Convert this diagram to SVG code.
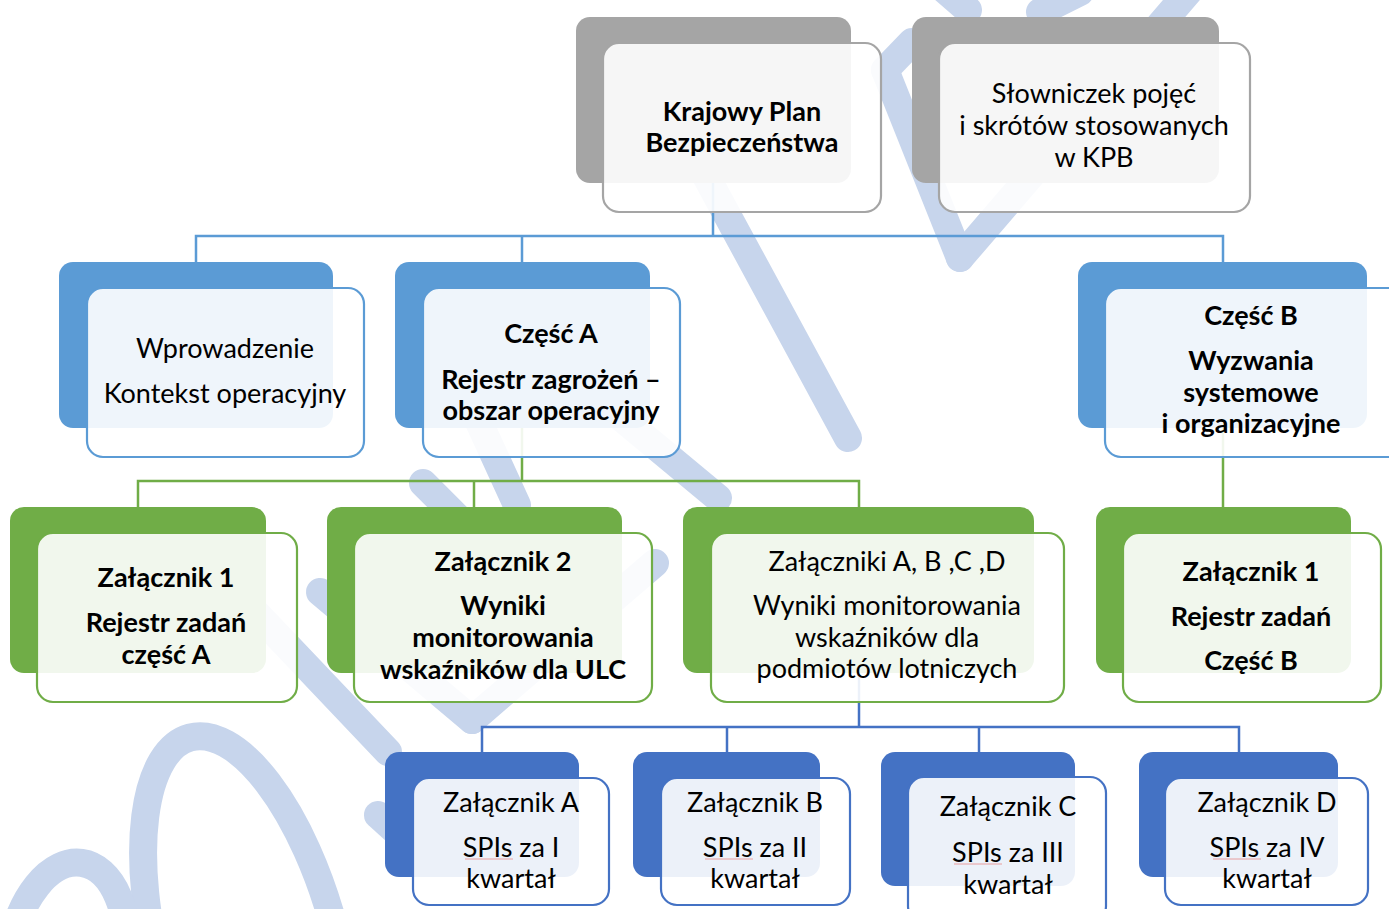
<svg xmlns="http://www.w3.org/2000/svg" width="1389" height="909" viewBox="0 0 1389 909">
<style>
text{font-family:Lato,"Liberation Sans",sans-serif;font-size:27px;fill:#000;text-anchor:middle}
.b{font-weight:700}
.wm{fill:none;stroke:#C7D5EC;stroke-width:28;stroke-linecap:round}
.bg{fill:#A5A5A5}.bb{fill:#5B9BD5}.bgr{fill:#70AD47}.bd{fill:#4472C4}
.fr{fill:#fff;fill-opacity:.9;stroke-width:2.2}
.sg{stroke:#A5A5A5}.sb{stroke:#5B9BD5}.sgr{stroke:#70AD47}.sd{stroke:#4472C4}
.con{fill:none;stroke-width:2.5}
.sp{stroke:#E88A8A;stroke-width:1;opacity:.8}
</style>
<rect width="1389" height="909" fill="#fff"/>
<g id="watermark">
<ellipse class="wm" cx="247" cy="950" rx="90" ry="220" transform="rotate(-15 247 950)"/>
<ellipse class="wm" cx="68" cy="960" rx="58" ry="98" transform="rotate(8 68 960)"/>
<line class="wm" x1="255" y1="612" x2="388" y2="752"/>
<line class="wm" x1="320" y1="592" x2="472" y2="720"/>
<line class="wm" x1="472" y1="720" x2="655" y2="563"/>
<line class="wm" x1="423" y1="483" x2="480" y2="540"/>
<line class="wm" x1="478" y1="420" x2="517" y2="505"/>
<line class="wm" x1="600" y1="400" x2="718" y2="498"/>
<line class="wm" x1="700" y1="165" x2="848" y2="438"/>
<line class="wm" x1="885" y1="70" x2="960" y2="258"/>
<line class="wm" x1="885" y1="70" x2="912" y2="42"/>
<line class="wm" x1="960" y1="258" x2="1190" y2="-10"/>
<line class="wm" x1="945" y1="-10" x2="968" y2="10"/>
<line class="wm" x1="1040" y1="12" x2="1080" y2="-8"/>
<line class="wm" x1="378" y1="815" x2="400" y2="835"/>
</g>
<g id="connectors">
<polyline class="con sb" points="713,183 713,236"/>
<polyline class="con sb" points="196,262 196,236 1223,236 1223,262"/>
<polyline class="con sb" points="522,236 522,262"/>
<polyline class="con sgr" points="522,428 522,481"/>
<polyline class="con sgr" points="138,507 138,481 859,481 859,507"/>
<polyline class="con sgr" points="474,481 474,507"/>
<polyline class="con sgr" points="1223,428 1223,507"/>
<polyline class="con sd" points="859,673 859,727"/>
<polyline class="con sd" points="482,752 482,727 1239,727 1239,752"/>
<polyline class="con sd" points="727,727 727,752"/>
<polyline class="con sd" points="979,727 979,752"/>
</g>
<g id="krajowy">
<rect class="bg" x="576" y="17" width="275" height="166" rx="14"/>
<rect class="fr sg" x="603" y="43" width="278" height="169" rx="16"/>
<text class="b" x="742" y="121">Krajowy Plan</text>
<text class="b" x="742" y="152">Bezpieczeństwa</text>
</g>
<g id="slowniczek">
<rect class="bg" x="912" y="17" width="307" height="166" rx="14"/>
<rect class="fr sg" x="939" y="43" width="311" height="169" rx="16"/>
<text x="1094" y="103">Słowniczek pojęć</text>
<text x="1094" y="135">i skrótów stosowanych</text>
<text x="1094" y="167">w KPB</text>
</g>
<g id="wprowadzenie">
<rect class="bb" x="59" y="262" width="274" height="166" rx="14"/>
<rect class="fr sb" x="87" y="288" width="277" height="169" rx="16"/>
<text x="225" y="358">Wprowadzenie</text>
<text x="225" y="403">Kontekst operacyjny</text>
</g>
<g id="czesc-a">
<rect class="bb" x="395" y="262" width="255" height="166" rx="14"/>
<rect class="fr sb" x="423" y="288" width="257" height="169" rx="16"/>
<text class="b" x="551" y="343">Część A</text>
<text class="b" x="551" y="389">Rejestr zagrożeń –</text>
<text class="b" x="551" y="420">obszar operacyjny</text>
</g>
<g id="czesc-b">
<rect class="bb" x="1078" y="262" width="289" height="166" rx="14"/>
<rect class="fr sb" x="1105" y="288" width="300" height="169" rx="16"/>
<text class="b" x="1251" y="325">Część B</text>
<text class="b" x="1251" y="370">Wyzwania</text>
<text class="b" x="1251" y="402">systemowe</text>
<text class="b" x="1251" y="433">i organizacyjne</text>
</g>
<g id="zal1-a">
<rect class="bgr" x="10" y="507" width="256" height="166" rx="14"/>
<rect class="fr sgr" x="37" y="533" width="260" height="169" rx="16"/>
<text class="b" x="166" y="587">Załącznik 1</text>
<text class="b" x="166" y="632">Rejestr zadań</text>
<text class="b" x="166" y="664">część A</text>
</g>
<g id="zal2">
<rect class="bgr" x="327" y="507" width="295" height="166" rx="14"/>
<rect class="fr sgr" x="354" y="533" width="298" height="169" rx="16"/>
<text class="b" x="503" y="571">Załącznik 2</text>
<text class="b" x="503" y="615">Wyniki</text>
<text class="b" x="503" y="647">monitorowania</text>
<text class="b" x="503" y="679">wskaźników dla ULC</text>
</g>
<g id="zal-abcd">
<rect class="bgr" x="683" y="507" width="351" height="166" rx="14"/>
<rect class="fr sgr" x="711" y="533" width="353" height="169" rx="16"/>
<text x="887" y="571">Załączniki A, B ,C ,D</text>
<text x="887" y="615">Wyniki monitorowania</text>
<text x="887" y="647">wskaźników dla</text>
<text x="887" y="678">podmiotów lotniczych</text>
</g>
<g id="zal1-b">
<rect class="bgr" x="1096" y="507" width="255" height="166" rx="14"/>
<rect class="fr sgr" x="1123" y="533" width="258" height="169" rx="16"/>
<text class="b" x="1251" y="581">Załącznik 1</text>
<text class="b" x="1251" y="626">Rejestr zadań</text>
<text class="b" x="1251" y="670">Część B</text>
</g>
<g id="zal-a">
<rect class="bd" x="385" y="752" width="194" height="125" rx="14"/>
<rect class="fr sd" x="413" y="778" width="196" height="127" rx="16"/>
<text x="511" y="812">Załącznik A</text>
<text x="511" y="857">SPIs za I</text>
<text x="511" y="888">kwartał</text>
<line class="sp" x1="465" y1="859" x2="513" y2="859"/>
</g>
<g id="zal-b">
<rect class="bd" x="633" y="752" width="187" height="125" rx="14"/>
<rect class="fr sd" x="661" y="778" width="189" height="127" rx="16"/>
<text x="755" y="812">Załącznik B</text>
<text x="755" y="857">SPIs za II</text>
<text x="755" y="888">kwartał</text>
<line class="sp" x1="705" y1="859" x2="753" y2="859"/>
</g>
<g id="zal-c">
<rect class="bd" x="881" y="752" width="194" height="134" rx="14"/>
<rect class="fr sd" x="908" y="777" width="198" height="145" rx="16"/>
<text x="1008" y="816">Załącznik C</text>
<text x="1008" y="862">SPIs za III</text>
<text x="1008" y="894">kwartał</text>
<line class="sp" x1="954" y1="864" x2="1002" y2="864"/>
</g>
<g id="zal-d">
<rect class="bd" x="1139" y="752" width="199" height="125" rx="14"/>
<rect class="fr sd" x="1165" y="778" width="203" height="127" rx="16"/>
<text x="1267" y="812">Załącznik D</text>
<text x="1267" y="857">SPIs za IV</text>
<text x="1267" y="888">kwartał</text>
<line class="sp" x1="1213" y1="859" x2="1261" y2="859"/>
</g>
</svg>
